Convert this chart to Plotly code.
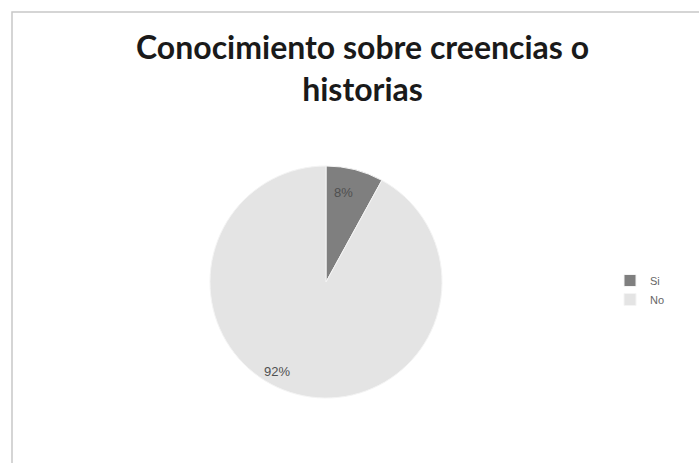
import plotly.graph_objects as go

# Survey answers: knowledge of beliefs or stories
categories = ["Si", "No"]
percentages = [8, 92]
slice_colors = ["#7f7f7f", "#e4e4e4"]

title_text = "Conocimiento sobre creencias o<br>historias"

W, H = 699, 463

fig = go.Figure()

fig.add_trace(go.Pie(
    labels=categories,
    values=percentages,
    sort=False,
    direction="clockwise",
    rotation=0,
    marker=dict(colors=slice_colors, line=dict(color="#f4f4f4", width=1)),
    textinfo="none",
    hoverinfo="label+percent",
    domain=dict(x=[(326 - 117) / W, (326 + 117) / W],
                y=[1 - 398 / H, 1 - 166 / H]),
    showlegend=True,
))

# Percentage labels placed on the slices
label_pos = [(343, 192), (277, 381)]
for val, (px, py) in zip(percentages, label_pos):
    fig.add_annotation(
        x=px / W, y=1 - py / H, xref="paper", yref="paper",
        text=f"{val}%", showarrow=False,
        font=dict(family="Liberation Sans Narrow, Liberation Sans, sans-serif",
                  size=13, color="#505050"),
    )

# Title
fig.add_annotation(
    x=363 / W, y=1 - 68 / H, xref="paper", yref="paper",
    xanchor="center", yanchor="middle",
    text=title_text, showarrow=False, align="center",
    font=dict(family="Lato, sans-serif", size=32, color="#1a1a1a", weight="bold"),
)

# Chart area border
fig.add_shape(type="rect", xref="paper", yref="paper",
              x0=12 / W, y0=-0.05, x1=1.05, y1=1 - 12 / H,
              line=dict(color="#c8c8c8", width=1.5), fillcolor="rgba(0,0,0,0)")

fig.update_layout(
    width=W, height=H,
    margin=dict(l=0, r=0, t=0, b=0),
    paper_bgcolor="white",
    plot_bgcolor="white",
    legend=dict(x=610 / W, y=1 - 266 / H, xanchor="left", yanchor="top",
                font=dict(family="Liberation Sans Narrow, Liberation Sans, sans-serif",
                          size=11, color="#666666"),
                itemwidth=30, tracegroupgap=4, bgcolor="rgba(0,0,0,0)"),
)

fig.write_html("out.html")
